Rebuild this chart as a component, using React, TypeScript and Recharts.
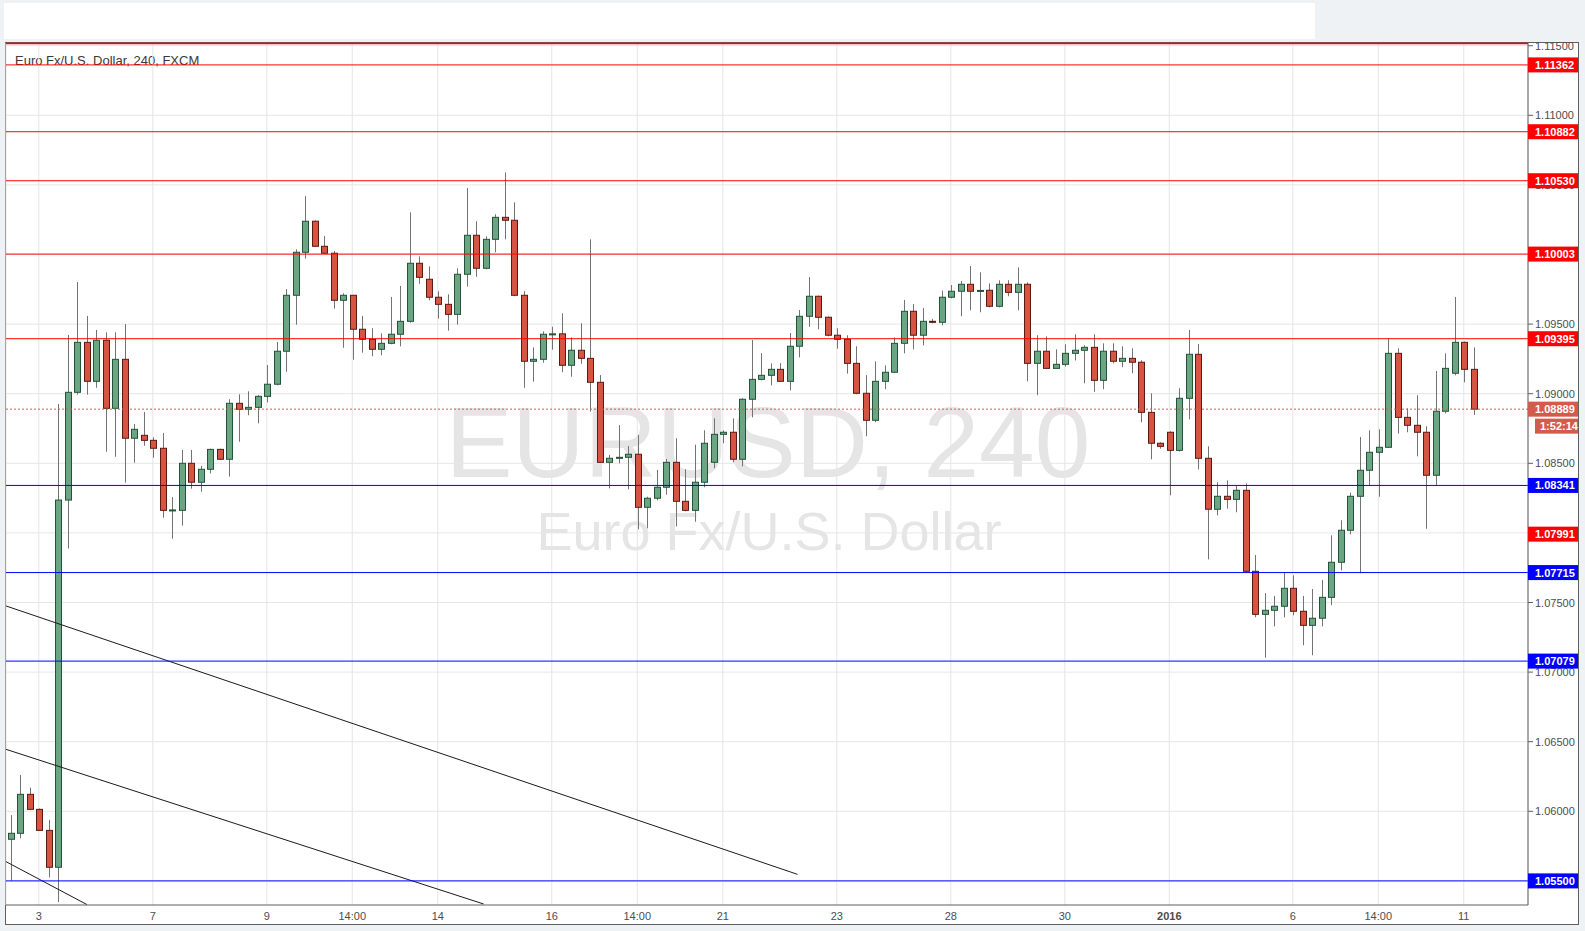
import React from "react";
import {
  ComposedChart,
  Bar,
  XAxis,
  YAxis,
  CartesianGrid,
  ReferenceLine,
} from "recharts";

// EUR/USD 4h candles, left to right
const opens = [
  1.05799, 1.05842, 1.06122, 1.06014, 1.05863, 1.05598, 1.08236, 1.0901, 1.09369, 1.09089,
  1.09384, 1.08895, 1.09247, 1.0868, 1.08701, 1.08665, 1.08608, 1.08162, 1.08162, 1.085,
  1.08364, 1.08457, 1.086, 1.08529, 1.08931, 1.08888, 1.08902, 1.08981, 1.09068, 1.09305,
  1.09707, 1.10016, 1.10239, 1.10059, 1.10009, 1.09671, 1.09707, 1.09463, 1.09391, 1.09319,
  1.09362, 1.09427, 1.0952, 1.09937, 1.09822, 1.09693, 1.09642, 1.0957, 1.09858, 1.10138,
  1.09901, 1.10109, 1.10267, 1.10246, 1.09707, 1.09233, 1.09247, 1.09427, 1.0943, 1.09204,
  1.09312, 1.09254, 1.09082, 1.08507, 1.08536, 1.08543, 1.08565, 1.08184, 1.08249, 1.08328,
  1.08507, 1.08227, 1.08162, 1.08364, 1.08507, 1.08708, 1.08723, 1.08529, 1.0896, 1.09103,
  1.09132, 1.09175, 1.09089, 1.09341, 1.09556, 1.097, 1.09549, 1.0942, 1.09391, 1.09218,
  1.09003, 1.08809, 1.09089, 1.09154, 1.09362, 1.09592, 1.0942, 1.0952, 1.09513, 1.09693,
  1.09736, 1.09786, 1.09736, 1.09743, 1.09628, 1.09786, 1.09728, 1.09786, 1.09218, 1.09305,
  1.09182, 1.09211, 1.0929, 1.09312, 1.09333, 1.09096, 1.09305, 1.09233, 1.09254, 1.09226,
  1.08866, 1.08644, 1.08723, 1.08593, 1.08967, 1.09283, 1.08536, 1.0817, 1.08263, 1.08241,
  1.08306, 1.07724, 1.07415, 1.07444, 1.07473, 1.07602, 1.07437, 1.07336, 1.07387, 1.07537,
  1.07789, 1.08019, 1.08263, 1.0845, 1.08579, 1.08615, 1.0929, 1.0883, 1.08773, 1.08723,
  1.08414, 1.08874, 1.09147, 1.09369, 1.09175,
];
const highs = [
  1.05973, 1.06261, 1.0617, 1.0602, 1.05938, 1.08926, 1.09422, 1.09802, 1.09558, 1.09458,
  1.09441, 1.09441, 1.095, 1.08782, 1.08869, 1.08687, 1.08718, 1.08258, 1.08596, 1.08596,
  1.08481, 1.08605, 1.08605, 1.0896, 1.08996, 1.09017, 1.0899, 1.09206, 1.09371, 1.09752,
  1.10037, 1.1042, 1.10245, 1.10133, 1.10025, 1.09721, 1.0971, 1.09558, 1.0947, 1.09434,
  1.09695, 1.09774, 1.10303, 1.09987, 1.09915, 1.09736, 1.09714, 1.09901, 1.10478, 1.10239,
  1.10131, 1.10289, 1.1059, 1.10375, 1.09736, 1.09333, 1.09448, 1.09481, 1.09578, 1.09405,
  1.09506, 1.10109, 1.09134, 1.0856, 1.08775, 1.08624, 1.08703, 1.0826, 1.08452, 1.08531,
  1.0868, 1.08457, 1.08634, 1.08737, 1.08823, 1.08737, 1.08823, 1.08967, 1.09386, 1.09292,
  1.09218, 1.0922, 1.09436, 1.09601, 1.09838, 1.09705, 1.09555, 1.0947, 1.0942, 1.09341,
  1.09134, 1.09233, 1.09204, 1.09405, 1.09673, 1.09644, 1.09616, 1.09537, 1.0974, 1.09781,
  1.0981, 1.09917, 1.09872, 1.09793, 1.09815, 1.09815, 1.09908, 1.098, 1.0942, 1.09412,
  1.09319, 1.09355, 1.09427, 1.09348, 1.09427, 1.09362, 1.09362, 1.09341, 1.09326, 1.0924,
  1.09003, 1.08651, 1.0873, 1.09039, 1.09458, 1.09357, 1.08622, 1.08364, 1.08378, 1.08339,
  1.08356, 1.07841, 1.07568, 1.07547, 1.07717, 1.07695, 1.07547, 1.07597, 1.07662, 1.07983,
  1.08091, 1.08289, 1.08689, 1.08737, 1.08744, 1.09398, 1.09326, 1.08895, 1.08989, 1.08766,
  1.09163, 1.0929, 1.09695, 1.09375, 1.09333,
];
const lows = [
  1.05501, 1.05806, 1.0601, 1.0586, 1.05526, 1.05348, 1.07888, 1.08993, 1.08993, 1.09043,
  1.08583, 1.08547, 1.08361, 1.08504, 1.08626, 1.0854, 1.08109, 1.07958, 1.08052, 1.08318,
  1.08296, 1.08428, 1.08525, 1.08404, 1.08655, 1.08845, 1.08787, 1.08938, 1.0906, 1.09158,
  1.09496, 1.0997, 1.10055, 1.10005, 1.09611, 1.0933, 1.09244, 1.09295, 1.09269, 1.09276,
  1.09355, 1.0934, 1.0951, 1.0979, 1.09671, 1.09539, 1.09453, 1.09496, 1.09769, 1.0984,
  1.09894, 1.10016, 1.10109, 1.097, 1.09043, 1.09086, 1.09223, 1.09316, 1.09154, 1.09122,
  1.09215, 1.08871, 1.08505, 1.0832, 1.085, 1.08313, 1.08026, 1.08033, 1.08234, 1.08274,
  1.08047, 1.08155, 1.0808, 1.08328, 1.08464, 1.08644, 1.08507, 1.08478, 1.0883, 1.09096,
  1.0906, 1.09085, 1.09024, 1.09261, 1.09481, 1.09463, 1.09412, 1.09323, 1.09144, 1.08996,
  1.08694, 1.08795, 1.09032, 1.0915, 1.0929, 1.09319, 1.09348, 1.09506, 1.09491, 1.09685,
  1.09556, 1.09599, 1.09585, 1.0962, 1.0962, 1.097, 1.09599, 1.09089, 1.08989, 1.0918,
  1.0918, 1.09194, 1.09239, 1.09075, 1.09014, 1.09032, 1.09218, 1.0919, 1.09147, 1.08795,
  1.08529, 1.08605, 1.0827, 1.08585, 1.08816, 1.08457, 1.0781, 1.08126, 1.08174, 1.08148,
  1.0772, 1.07394, 1.07103, 1.07329, 1.07394, 1.07408, 1.07193, 1.07121, 1.07329, 1.0748,
  1.07731, 1.0799, 1.0771, 1.08342, 1.0826, 1.0861, 1.08713, 1.08723, 1.0855, 1.0803,
  1.08342, 1.08859, 1.09132, 1.09082, 1.08848,
];
const closes = [
  1.05842, 1.06122, 1.06014, 1.05863, 1.05598, 1.08236, 1.0901, 1.09369, 1.09089, 1.09384,
  1.08895, 1.09247, 1.0868, 1.08744, 1.08665, 1.08608, 1.08162, 1.08165, 1.085, 1.08364,
  1.08457, 1.086, 1.08529, 1.08931, 1.08888, 1.08902, 1.08981, 1.09068, 1.09305, 1.09707,
  1.10016, 1.10239, 1.10059, 1.10009, 1.09671, 1.09707, 1.09463, 1.09391, 1.09319, 1.09362,
  1.09427, 1.0952, 1.09937, 1.09836, 1.09693, 1.09642, 1.0957, 1.09858, 1.10138, 1.09901,
  1.10109, 1.10267, 1.10246, 1.09707, 1.09233, 1.09247, 1.09427, 1.0943, 1.09204, 1.09312,
  1.09254, 1.09082, 1.08507, 1.08536, 1.08543, 1.08565, 1.08184, 1.08249, 1.08328, 1.08507,
  1.08227, 1.08162, 1.08364, 1.08644, 1.08708, 1.08723, 1.08529, 1.0896, 1.09103, 1.09132,
  1.09175, 1.09089, 1.09341, 1.09556, 1.097, 1.09549, 1.0942, 1.09391, 1.09218, 1.09003,
  1.08809, 1.09089, 1.09154, 1.09362, 1.09592, 1.0942, 1.0952, 1.09513, 1.09693, 1.09736,
  1.09786, 1.09736, 1.09742, 1.09628, 1.09786, 1.09728, 1.09786, 1.09218, 1.09305, 1.09182,
  1.09211, 1.0929, 1.09312, 1.09333, 1.09096, 1.09305, 1.09233, 1.09254, 1.09226, 1.08866,
  1.08644, 1.08622, 1.08593, 1.08967, 1.09283, 1.08536, 1.0817, 1.08263, 1.08241, 1.08306,
  1.07724, 1.07415, 1.07444, 1.07473, 1.07602, 1.07437, 1.07336, 1.07387, 1.07537, 1.07789,
  1.08019, 1.08263, 1.0845, 1.08579, 1.08615, 1.0929, 1.0883, 1.08773, 1.08723, 1.08414,
  1.08874, 1.09182, 1.09369, 1.09175, 1.08889,
];

const timeTicks = [3, 15, 27, 36, 45, 57, 66, 75, 87, 99, 111, 122, 135, 144, 153];
const timeLabels = ["3", "7", "9", "14:00", "14", "16", "14:00", "21", "23", "28", "30", "2016", "6", "14:00", "11"];
const priceTicks = [1.055, 1.06, 1.065, 1.07, 1.075, 1.08, 1.085, 1.09, 1.095, 1.1, 1.105, 1.11, 1.115];

const redLevels = [1.11362, 1.10882, 1.1053, 1.10003, 1.09395];
const blueLevels = [1.08341, 1.07715, 1.07079, 1.055];
const alertLevel = 1.07991;
const lastPrice = 1.08889;
const countdown = "1:52:14";
const topLevel = 1.11515;

// trend lines: [startIndex, startPrice, endIndex, endPrice]
const trendLines = [
  [-0.44, 1.07475, 82.87, 1.05547],
  [-0.44, 1.06445, 49.83, 1.05334],
  [-0.44, 1.05638, 8.07, 1.0533],
];

const data = opens.map((o, i) => ({
  i,
  open: o,
  high: highs[i],
  low: lows[i],
  close: closes[i],
}));

// price tags on the axis, drawn after the plain tick labels so they sit on top
const tags = [
  ...redLevels.map((v) => ({ v, fill: "#ff0000", sub: "" })),
  ...blueLevels.map((v) => ({ v, fill: "#0000ff", sub: "" })),
  { v: alertLevel, fill: "#ff0000", sub: "" },
  { v: lastPrice, fill: "#d35b4b", sub: countdown },
];
const axisValues = [...priceTicks, ...tags.map((t) => t.v)];

const FONT = "'Liberation Sans', Arial, sans-serif";

function Candle(props: any) {
  const { x, y, width, height, payload } = props;
  if (!payload) return null;
  const cx = Math.round(x + width / 2) + 0.5;
  const top = Math.min(y, y + height);
  const h = Math.abs(height);
  const { open, close, high, low } = payload;
  const span = high - low || 1;
  const py = (p: number) => top + ((high - p) / span) * h;
  const up = close >= open;
  const bTop = py(Math.max(open, close));
  const bBot = py(Math.min(open, close));
  return (
    <g>
      <line x1={cx} x2={cx} y1={top} y2={top + h} stroke="#737373" strokeWidth={1} />
      <rect
        x={cx - 3}
        y={bTop}
        width={6}
        height={Math.max(bBot - bTop, 1)}
        fill={up ? "#6ba583" : "#d75442"}
        stroke={up ? "#225437" : "#5b1a13"}
        strokeWidth={1}
      />
    </g>
  );
}

function PriceTick(props: any) {
  const { x, y, payload, index } = props;
  if (index < priceTicks.length) {
    return (
      <text x={x} y={y + 4} fontSize={11} fill="#4d4d4d" fontFamily={FONT}>
        {Number(payload.value).toFixed(5)}
      </text>
    );
  }
  const t = tags[index - priceTicks.length];
  if (!t) return null;
  const bx = x - 7;
  return (
    <g>
      <rect x={bx} y={y - 7.5} width={50} height={15} fill={t.fill} />
      <text x={bx + 7} y={y + 4} fill="#fff" fontSize={11} fontWeight="bold" fontFamily={FONT}>
        {t.v.toFixed(5)}
      </text>
      {t.sub && (
        <g>
          <rect x={bx + 7} y={y + 9.5} width={43} height={15} fill={t.fill} />
          <text x={bx + 12} y={y + 21} fill="#fff" fontSize={11} fontWeight="bold" fontFamily={FONT}>
            {t.sub}
          </text>
        </g>
      )}
    </g>
  );
}

function TimeTick(props: any) {
  const { x, y, payload } = props;
  const label = timeLabels[timeTicks.indexOf(payload.value)];
  return (
    <text
      x={x}
      y={y + 9}
      textAnchor="middle"
      fontSize={11}
      fill="#4d4d4d"
      fontFamily={FONT}
      fontWeight={label === "2016" ? "bold" : "normal"}
    >
      {label}
    </text>
  );
}

export default function App() {
  return (
    <div
      style={{
        position: "absolute",
        left: 0,
        top: 0,
        width: 1585,
        height: 931,
        background: "#eff2f5",
        overflow: "hidden",
      }}
    >
      <div style={{ position: "absolute", left: 4, top: 3, width: 1311, height: 36, background: "#fff" }} />
      <div
        style={{
          position: "absolute",
          left: 5,
          top: 42,
          width: 1574,
          height: 883,
          background: "#fff",
          border: "1px solid #5f5f5f",
          boxSizing: "border-box",
        }}
      />
      <svg width={1585} height={931} style={{ position: "absolute", left: 0, top: 0 }}>
        <text x={768} y={477} textAnchor="middle" fontSize={100} fill="#e5e5e5" fontFamily={FONT}>
          EURUSD, 240
        </text>
        <text x={769} y={550} textAnchor="middle" fontSize={54} fill="#e5e5e5" fontFamily={FONT}>
          Euro Fx/U.S. Dollar
        </text>
        <text x={15} y={65} fontSize={13} fill="#3a3a3a" fontFamily={FONT}>
          Euro Fx/U.S. Dollar, 240, FXCM
        </text>
      </svg>
      <div style={{ position: "absolute", left: 0, top: 0 }}>
        <ComposedChart
          width={1585}
          height={931}
          data={data}
          margin={{ top: 43, left: 6, right: 7, bottom: 7 }}
          style={{ fontFamily: FONT }}
        >
          <CartesianGrid stroke="#e6e6e6" horizontalValues={priceTicks} />
          <XAxis
            dataKey="i"
            type="number"
            domain={[-0.45, 159.76]}
            allowDataOverflow
            ticks={timeTicks}
            interval={0}
            height={19}
            tickLine={false}
            tickSize={4}
            axisLine={{ stroke: "#5f5f5f" }}
            tick={<TimeTick />}
          />
          <YAxis
            orientation="right"
            type="number"
            domain={[1.053269, 1.115194]}
            allowDataOverflow
            ticks={axisValues}
            interval={0}
            width={50}
            tickSize={5}
            axisLine={{ stroke: "#5f5f5f" }}
            tickLine={{ stroke: "#5f5f5f" }}
            tick={<PriceTick />}
          />
          <Bar
            dataKey={(d: any) => [d.low, d.high]}
            barSize={6}
            shape={<Candle />}
            isAnimationActive={false}
          />
          {trendLines.map((t, k) => (
            <ReferenceLine
              key={"t" + k}
              segment={[
                { x: t[0], y: t[1] },
                { x: t[2], y: t[3] },
              ]}
              stroke="#1a1a1a"
              strokeWidth={1}
              ifOverflow="hidden"
            />
          ))}
          <ReferenceLine y={topLevel} stroke="#ff0000" strokeWidth={1.5} />
          {redLevels.map((v) => (
            <ReferenceLine key={"r" + v} y={v} stroke="#ff0000" strokeWidth={1} />
          ))}
          {blueLevels.map((v) => (
            <ReferenceLine key={"b" + v} y={v} stroke="#0000ff" strokeWidth={1} />
          ))}
          <ReferenceLine y={lastPrice} stroke="#d35b4b" strokeDasharray="2 2" />
        </ComposedChart>
      </div>
    </div>
  );
}
